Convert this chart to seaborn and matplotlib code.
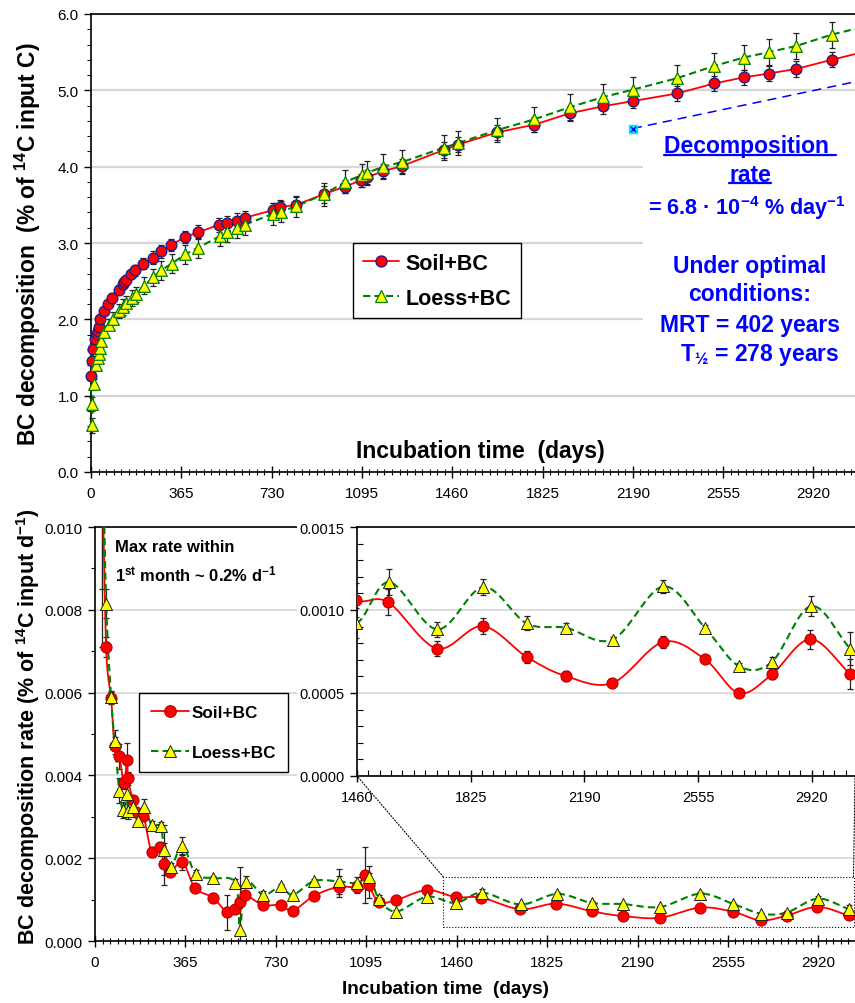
import numpy as np
import pandas as pd
import matplotlib
matplotlib.use("Agg")
import matplotlib.pyplot as plt
import seaborn as sns
from matplotlib.patches import Rectangle, ConnectionPatch
from matplotlib.lines import Line2D
from matplotlib.ticker import MultipleLocator, FormatStrFormatter

# ---------------- data: cumulative BC decomposition (top panel) ----------------
soil_days = [0, 4, 9, 16, 23, 27, 31, 38, 53, 70, 86, 112, 128, 135, 141, 160, 178, 211, 249, 283,
             323, 380, 434, 517, 548, 589, 622, 734, 764, 829, 942, 1028, 1090, 1114, 1181, 1258,
             1427, 1485, 1642, 1792, 1936, 2068, 2192, 2370, 2519, 2639, 2739, 2850, 2994, 3120]
soil_cum = [1.26, 1.45, 1.61, 1.74, 1.81, 1.85, 1.90, 2.00, 2.11, 2.20, 2.28, 2.39, 2.46, 2.49, 2.52,
            2.59, 2.64, 2.73, 2.81, 2.89, 2.97, 3.08, 3.14, 3.24, 3.26, 3.29, 3.33, 3.43, 3.47, 3.50,
            3.64, 3.74, 3.82, 3.86, 3.94, 4.01, 4.22, 4.29, 4.45, 4.55, 4.70, 4.79, 4.86, 4.96, 5.09,
            5.17, 5.22, 5.28, 5.40, 5.50]
soil_cum_err = [0.03, 0.04, 0.04, 0.04, 0.05, 0.05, 0.05, 0.05, 0.05, 0.05, 0.06, 0.06, 0.06, 0.06,
                0.06, 0.06, 0.07, 0.07, 0.08, 0.08, 0.08, 0.08, 0.09, 0.09, 0.09, 0.10, 0.09, 0.09,
                0.09, 0.10, 0.11, 0.09, 0.09, 0.10, 0.09, 0.09, 0.10, 0.10, 0.10, 0.10, 0.10, 0.10,
                0.09, 0.10, 0.10, 0.10, 0.10, 0.10, 0.10, 0.10]

loess_days = [5, 6, 13, 20, 27, 31, 35, 40, 54, 73, 90, 114, 131, 141, 164, 181, 214, 252, 283, 326,
              380, 434, 521, 551, 591, 622, 734, 767, 829, 942, 1028, 1094, 1117, 1181, 1258, 1427,
              1485, 1642, 1792, 1936, 2068, 2192, 2370, 2519, 2639, 2739, 2850, 2994, 3120]
loess_cum = [0.61, 0.89, 1.15, 1.40, 1.50, 1.55, 1.63, 1.72, 1.84, 1.93, 2.01, 2.11, 2.16, 2.21, 2.28,
             2.33, 2.44, 2.55, 2.64, 2.73, 2.85, 2.94, 3.09, 3.14, 3.19, 3.24, 3.38, 3.41, 3.48, 3.64,
             3.80, 3.89, 3.92, 4.00, 4.06, 4.25, 4.31, 4.48, 4.62, 4.78, 4.91, 5.01, 5.16, 5.32, 5.43,
             5.50, 5.58, 5.73, 5.83]
loess_cum_err = [0.10, 0.09, 0.07, 0.06, 0.06, 0.06, 0.06, 0.06, 0.07, 0.07, 0.08, 0.09, 0.10, 0.10,
                 0.10, 0.10, 0.11, 0.11, 0.12, 0.12, 0.12, 0.13, 0.13, 0.13, 0.13, 0.13, 0.14, 0.14,
                 0.14, 0.15, 0.15, 0.15, 0.15, 0.16, 0.16, 0.16, 0.16, 0.16, 0.16, 0.17, 0.17, 0.17,
                 0.17, 0.17, 0.17, 0.17, 0.17, 0.17, 0.17]

# linear decomposition-rate line (6.8e-4 % per day)
decomp_days = [2190, 3100]
decomp_vals = [4.50, 5.12]

# ---------------- data: decomposition rate (bottom panel), in units of 1e-3 % d-1 ----------------
soil_rate_days = [29, 45, 65, 79, 98, 117, 129, 133, 152, 166, 195, 229, 262, 279, 303, 353, 404, 475,
                  534, 567, 585, 607, 677, 750, 798, 884, 983, 1057, 1090, 1106, 1147, 1216, 1340,
                  1456, 1560, 1716, 1863, 2005, 2130, 2280, 2443, 2577, 2687, 2792, 2916, 3043]
soil_rate_e3 = [11.5, 7.10, 5.87, 4.72, 4.46, 3.81, 4.38, 3.93, 3.41, 3.11, 3.03, 2.14, 2.28, 1.86,
                1.66, 1.91, 1.28, 1.05, 0.69, 0.77, 0.95, 1.11, 0.87, 0.87, 0.73, 1.09, 1.31, 1.31,
                1.59, 1.35, 0.94, 0.99, 1.23, 1.06, 1.047, 0.768, 0.903, 0.717, 0.602, 0.560, 0.808,
                0.703, 0.499, 0.612, 0.824, 0.616]
soil_rate_err_e3 = [4.4, 0.25, 0.15, 0.20, 0.30, 0.15, 0.40, 0.15, 0.10, 0.10, 0.10, 0.10, 0.10, 0.50,
                    0.10, 0.20, 0.10, 0.10, 0.42, 0.10, 0.10, 0.10, 0.05, 0.05, 0.05, 0.05, 0.25, 0.15,
                    0.68, 0.30, 0.10, 0.05, 0.05, 0.10, 0.08, 0.044, 0.048, 0.038, 0.03, 0.015, 0.037,
                    0.01, 0.01, 0.03, 0.058, 0.09]

loess_rate_days = [30, 45, 65, 79, 98, 114, 130, 134, 155, 172, 198, 229, 265, 280, 306, 353, 407, 478,
                   567, 585, 608, 680, 750, 798, 884, 983, 1057, 1106, 1147, 1216, 1340, 1456, 1563,
                   1718, 1866, 2005, 2131, 2281, 2443, 2577, 2687, 2792, 2918, 3043]
loess_rate_e3 = [12.5, 8.15, 5.89, 4.84, 3.63, 3.16, 3.55, 3.15, 3.23, 2.91, 3.23, 2.80, 2.77, 2.20,
                 1.78, 2.30, 1.61, 1.52, 1.40, 0.26, 1.43, 1.11, 1.32, 1.11, 1.45, 1.44, 1.40, 1.55,
                 1.01, 0.71, 1.07, 0.92, 1.168, 0.883, 1.138, 0.919, 0.893, 0.822, 1.142, 0.893, 0.661,
                 0.687, 1.024, 0.768]
loess_rate_err_e3 = [4.0, 0.35, 0.15, 0.25, 0.30, 0.20, 0.25, 0.20, 0.10, 0.10, 0.20, 0.10, 0.10, 0.60,
                     0.10, 0.22, 0.10, 0.05, 0.10, 1.52, 0.15, 0.10, 0.05, 0.05, 0.05, 0.30, 0.15, 0.25,
                     0.10, 0.05, 0.05, 0.09, 0.08, 0.045, 0.05, 0.042, 0.03, 0.015, 0.04, 0.015, 0.02,
                     0.03, 0.06, 0.10]

x_ticks_days = [0, 365, 730, 1095, 1460, 1825, 2190, 2555, 2920]

# ---------------- style ----------------
sns.set_theme(style="ticks")
plt.rcParams['font.family'] = ['Liberation Sans', 'DejaVu Sans']
plt.rcParams['mathtext.fontset'] = 'custom'
plt.rcParams['mathtext.rm'] = 'Liberation Sans'
plt.rcParams['mathtext.bf'] = 'Liberation Sans:bold'
plt.rcParams['mathtext.it'] = 'Liberation Sans:italic'
plt.rcParams['mathtext.default'] = 'bf'
plt.rcParams['axes.edgecolor'] = 'black'
plt.rcParams['xtick.color'] = 'black'
plt.rcParams['ytick.color'] = 'black'
plt.rcParams['text.color'] = 'black'

RED = '#ff0000'
GREEN = '#008000'
YELLOW = '#ffff00'
BLUE = '#0000ff'
GRID = '#d6d6d6'

W, H = 855, 1004
fig = plt.figure(figsize=(W / 100, H / 100), dpi=100)


def catmull(xs, ys, n=16):
    P = np.column_stack([np.asarray(xs, float), np.asarray(ys, float)])
    P = np.vstack([2 * P[0] - P[1], P, 2 * P[-1] - P[-2]])
    t = np.linspace(0, 1, n, endpoint=False)[:, None]
    h00 = 2 * t**3 - 3 * t**2 + 1
    h10 = t**3 - 2 * t**2 + t
    h01 = -2 * t**3 + 3 * t**2
    h11 = t**3 - t**2
    segs = []
    for i in range(1, len(P) - 2):
        m1 = (P[i + 1] - P[i - 1]) / 2
        m2 = (P[i + 2] - P[i]) / 2
        segs.append(h00 * P[i] + h10 * m1 + h01 * P[i + 1] + h11 * m2)
    segs.append(P[-2][None, :])
    c = np.vstack(segs)
    return c[:, 0], c[:, 1]


def style_axis(ax, xfs):
    ax.spines['right'].set_visible(False)
    for s in ['left', 'bottom', 'top']:
        ax.spines[s].set_linewidth(1.2)
        ax.spines[s].set_color('black')
    ax.tick_params(axis='x', which='major', direction='inout', length=8, width=1, labelsize=xfs, pad=6)
    ax.tick_params(axis='x', which='minor', direction='inout', length=5, width=0.8)
    ax.tick_params(axis='y', which='major', direction='out', length=5, width=1, labelsize=xfs, pad=4)
    ax.tick_params(axis='y', which='minor', direction='out', length=3, width=0.8)
    ax.tick_params(top=False, right=False, which='both')
    ax.set_xlabel('')
    ax.set_ylabel('')


# =============================== TOP PANEL ===============================
ax1 = fig.add_axes([91 / W, 1 - 473 / H, 764 / W, 458 / H])
ax1.set_facecolor('white')
ax1.set_axisbelow(True)

df_s = pd.DataFrame({'day': soil_days, 'val': soil_cum, 'err': soil_cum_err})
df_l = pd.DataFrame({'day': loess_days, 'val': loess_cum, 'err': loess_cum_err})

ax1.add_patch(Rectangle((0.7225, 0.18), 0.2775, 0.57, transform=ax1.transAxes,
                        facecolor='white', edgecolor='none', zorder=1.5))

ax1.errorbar(df_s['day'], df_s['val'], yerr=df_s['err'], fmt='none', ecolor='#222222',
             elinewidth=0.9, capsize=2.5, capthick=0.9, zorder=2, clip_on=False)
ax1.errorbar(df_l['day'], df_l['val'], yerr=df_l['err'], fmt='none', ecolor='#222222',
             elinewidth=0.9, capsize=2.5, capthick=0.9, zorder=2, clip_on=False)

sns.lineplot(data=df_s, x='day', y='val', ax=ax1, color=RED, lw=1.3, sort=False,
             estimator=None, zorder=3)
sns.lineplot(data=df_l, x='day', y='val', ax=ax1, color=GREEN, lw=1.5, sort=False,
             estimator=None, zorder=3.2)
ax1.lines[-1].set_dashes([3.5, 2])

sns.lineplot(x=decomp_days, y=decomp_vals, ax=ax1, color=BLUE, lw=1.1, sort=False,
             estimator=None, zorder=3)
ax1.lines[-1].set_dashes([6, 4])
ax1.scatter(decomp_days[:1], decomp_vals[:1], marker='s', s=40, color='#00e5ff', zorder=4)
ax1.scatter(decomp_days[:1], decomp_vals[:1], marker='x', s=14, color=BLUE, linewidths=1, zorder=4.1)

sns.scatterplot(data=df_s, x='day', y='val', ax=ax1, marker='o', s=60, color=RED,
                edgecolor='#1a1a8c', linewidth=0.9, zorder=4, clip_on=False)
sns.scatterplot(data=df_l, x='day', y='val', ax=ax1, marker='^', s=70, color=YELLOW,
                edgecolor=GREEN, linewidth=0.9, zorder=4.5, clip_on=False)

ax1.set_xlim(0, 3088)
ax1.set_ylim(0, 6)
ax1.set_xticks(x_ticks_days)
ax1.xaxis.set_minor_locator(MultipleLocator(365 / 12))
ax1.yaxis.set_major_locator(MultipleLocator(1))
ax1.yaxis.set_minor_locator(MultipleLocator(0.2))
ax1.yaxis.set_major_formatter(FormatStrFormatter('%.1f'))
ax1.grid(axis='y', which='major', color=GRID, lw=1.6)
ax1.grid(axis='x', visible=False)
style_axis(ax1, 11)

ax1.text(0.509, 0.046, 'Incubation time  (days)', transform=ax1.transAxes, ha='center',
         va='center', fontsize=16.5, fontweight='bold', zorder=6)

h_soil = Line2D([], [], color=RED, lw=1.3, marker='o', ms=8, mfc=RED, mec='#1a1a8c', mew=0.9)
h_loess = Line2D([], [], color=GREEN, lw=1.5, ls=(0, (3.5, 2)), marker='^', ms=9, mfc=YELLOW,
                 mec=GREEN, mew=0.9)
leg1 = ax1.legend([h_soil, h_loess], ['Soil+BC', 'Loess+BC'], loc='upper left',
                  bbox_to_anchor=(0.343, 0.5), frameon=True, fancybox=False, framealpha=1,
                  edgecolor='black', prop={'weight': 'bold', 'size': 15.5}, handlelength=1.7,
                  handletextpad=0.3, labelspacing=0.65, borderpad=0.45, borderaxespad=0)
leg1.get_frame().set_linewidth(1.0)
leg1.set_zorder(7)

# blue annotation
xc = 0.8626
t_dec = ax1.text(xc, 0.712, 'Decomposition ', transform=ax1.transAxes, ha='center', va='center',
                 color=BLUE, fontsize=16.5, fontweight='bold', zorder=6)
t_rate = ax1.text(xc, 0.650, 'rate', transform=ax1.transAxes, ha='center', va='center',
                  color=BLUE, fontsize=16.5, fontweight='bold', zorder=6)
ax1.text(0.858, 0.579, '= 6.8 · 10$^{-4}$ % day$^{-1}$', transform=ax1.transAxes, ha='center',
         va='center', color=BLUE, fontsize=15.6, fontweight='bold', zorder=6)
ax1.text(xc, 0.450, 'Under optimal', transform=ax1.transAxes, ha='center', va='center',
         color=BLUE, fontsize=16.5, fontweight='bold', zorder=6)
ax1.text(xc, 0.389, 'conditions:', transform=ax1.transAxes, ha='center', va='center',
         color=BLUE, fontsize=16.5, fontweight='bold', zorder=6)
ax1.text(xc, 0.323, 'MRT = 402 years', transform=ax1.transAxes, ha='center', va='center',
         color=BLUE, fontsize=16.5, fontweight='bold', zorder=6)
ax1.text(0.8757, 0.258, 'T$_{½}$ = 278 years', transform=ax1.transAxes, ha='center', va='center',
         color=BLUE, fontsize=16.5, fontweight='bold', zorder=6)

fig.text(28 / W, 1 - 244 / H, 'BC decomposition  (% of $^{14}$C input C)', rotation=90,
         ha='center', va='center', fontsize=16.4, fontweight='bold')

# =============================== BOTTOM PANEL ===============================
ax2 = fig.add_axes([95 / W, 1 - 942 / H, 760 / W, 414 / H])
ax2.set_facecolor('white')
ax2.set_axisbelow(True)

sr = pd.DataFrame({'day': soil_rate_days, 'val': np.array(soil_rate_e3) * 1e-3,
                   'err': np.array(soil_rate_err_e3) * 1e-3})
lr = pd.DataFrame({'day': loess_rate_days, 'val': np.array(loess_rate_e3) * 1e-3,
                   'err': np.array(loess_rate_err_e3) * 1e-3})
sx, sy = catmull(sr['day'], sr['val'])
lx, ly = catmull(lr['day'], lr['val'])


def draw_rate(ax, ms_c, ms_t):
    ax.errorbar(sr['day'], sr['val'], yerr=sr['err'], fmt='none', ecolor='#222222',
                elinewidth=0.9, capsize=2.5, capthick=0.9, zorder=2)
    ax.errorbar(lr['day'], lr['val'], yerr=lr['err'], fmt='none', ecolor='#222222',
                elinewidth=0.9, capsize=2.5, capthick=0.9, zorder=2)
    sns.lineplot(x=sx, y=sy, ax=ax, color=RED, lw=1.3, sort=False, estimator=None, zorder=3)
    sns.lineplot(x=lx, y=ly, ax=ax, color=GREEN, lw=1.5, sort=False, estimator=None, zorder=3.2)
    ax.lines[-1].set_dashes([3.5, 2])
    sns.scatterplot(data=sr, x='day', y='val', ax=ax, marker='o', s=ms_c, color=RED,
                    edgecolor='#b00000', linewidth=0.7, zorder=4)
    sns.scatterplot(data=lr, x='day', y='val', ax=ax, marker='^', s=ms_t, color=YELLOW,
                    edgecolor='#202020', linewidth=0.7, zorder=4.5)


draw_rate(ax2, 65, 75)
ax2.set_xlim(0, 3068)
ax2.set_ylim(0, 0.010)
ax2.set_xticks(x_ticks_days)
ax2.xaxis.set_minor_locator(MultipleLocator(365 / 12))
ax2.yaxis.set_major_locator(MultipleLocator(0.002))
ax2.yaxis.set_minor_locator(MultipleLocator(0.001))
ax2.yaxis.set_major_formatter(FormatStrFormatter('%.3f'))
ax2.grid(axis='y', which='major', color=GRID, lw=1.2)
ax2.grid(axis='x', visible=False)
style_axis(ax2, 11)

# zoom box
ax2.add_patch(Rectangle((1406, 0.00034), 3062 - 1406, 0.00121, fill=False, edgecolor='black',
                        lw=0.8, ls=':', zorder=3.5))

h_soil2 = Line2D([], [], color=RED, lw=1.3, marker='o', ms=8.5, mfc=RED, mec='#b00000', mew=0.7)
h_loess2 = Line2D([], [], color=GREEN, lw=1.5, ls=(0, (3.5, 2)), marker='^', ms=9, mfc=YELLOW,
                  mec='#202020', mew=0.7)
leg2 = ax2.legend([h_soil2, h_loess2], ['Soil+BC', 'Loess+BC'], loc='upper left',
                  bbox_to_anchor=(0.058, 0.599), frameon=True, fancybox=False, framealpha=1,
                  edgecolor='black', prop={'weight': 'bold', 'size': 12.3}, handlelength=2.2,
                  handletextpad=0.2, labelspacing=1.45, borderpad=0.7, borderaxespad=0)
leg2.get_frame().set_linewidth(1.0)

fig.text(115 / W, 1 - 548 / H, 'Max rate within', ha='left', va='center', fontsize=11.9,
         fontweight='bold')
fig.text(115 / W, 1 - 574 / H, '1$^{st}$ month ~ 0.2% d$^{-1}$', ha='left', va='center',
         fontsize=11.9, fontweight='bold')

fig.text(28 / W, 1 - 727 / H, 'BC decomposition rate (% of $^{14}$C input d$^{-1}$)', rotation=90,
         ha='center', va='center', fontsize=15.5, fontweight='bold')
fig.text(445 / W, 1 - 990 / H, 'Incubation time  (days)', ha='center', va='center',
         fontsize=13.7, fontweight='bold')

# white backdrop for inset
ax2.add_patch(Rectangle((297 / W, 1 - 815 / H), (W - 297) / W, (815 - 512) / H,
                        transform=fig.transFigure, facecolor='white', edgecolor='none',
                        zorder=5, clip_on=False))

# =============================== INSET ===============================
ax3 = fig.add_axes([357 / W, 1 - 777 / H, 498 / W, 249 / H])
ax3.set_facecolor('white')
ax3.set_axisbelow(True)
draw_rate(ax3, 65, 75)
ax3.set_xlim(1460, 3059)
ax3.set_ylim(0, 0.0015)
ax3.set_xticks(x_ticks_days[4:])
ax3.xaxis.set_minor_locator(MultipleLocator(36.5))
ax3.yaxis.set_major_locator(MultipleLocator(0.0005))
ax3.yaxis.set_minor_locator(MultipleLocator(0.0001))
ax3.yaxis.set_major_formatter(FormatStrFormatter('%.4f'))
ax3.grid(axis='y', which='major', color=GRID, lw=1.2)
ax3.grid(axis='x', visible=False)
style_axis(ax3, 10.5)
ax3.tick_params(axis='y', which='minor', direction='in', length=4)
ax3.tick_params(axis='x', which='minor', direction='in', length=4)

# connectors from zoom box to inset (drawn above the white backdrop)
for xa, xb in [((1406, 0.00155), (0, 0)), ((3062, 0.00155), (1, 0))]:
    cp = ConnectionPatch(xyA=xa, coordsA=ax2.transData, xyB=xb, coordsB=ax3.transAxes,
                         ls=':', lw=0.8, color='black', zorder=6)
    ax2.add_artist(cp)

# underline for "Decomposition rate"
fig.canvas.draw()
rend = fig.canvas.get_renderer()
for t in (t_dec, t_rate):
    bb = t.get_window_extent(rend)
    y = (bb.y0 + 2.5) / H
    fig.add_artist(Line2D([bb.x0 / W, bb.x1 / W], [y, y], transform=fig.transFigure,
                          color=BLUE, lw=1.6))

fig.savefig('out.png', dpi=100)
